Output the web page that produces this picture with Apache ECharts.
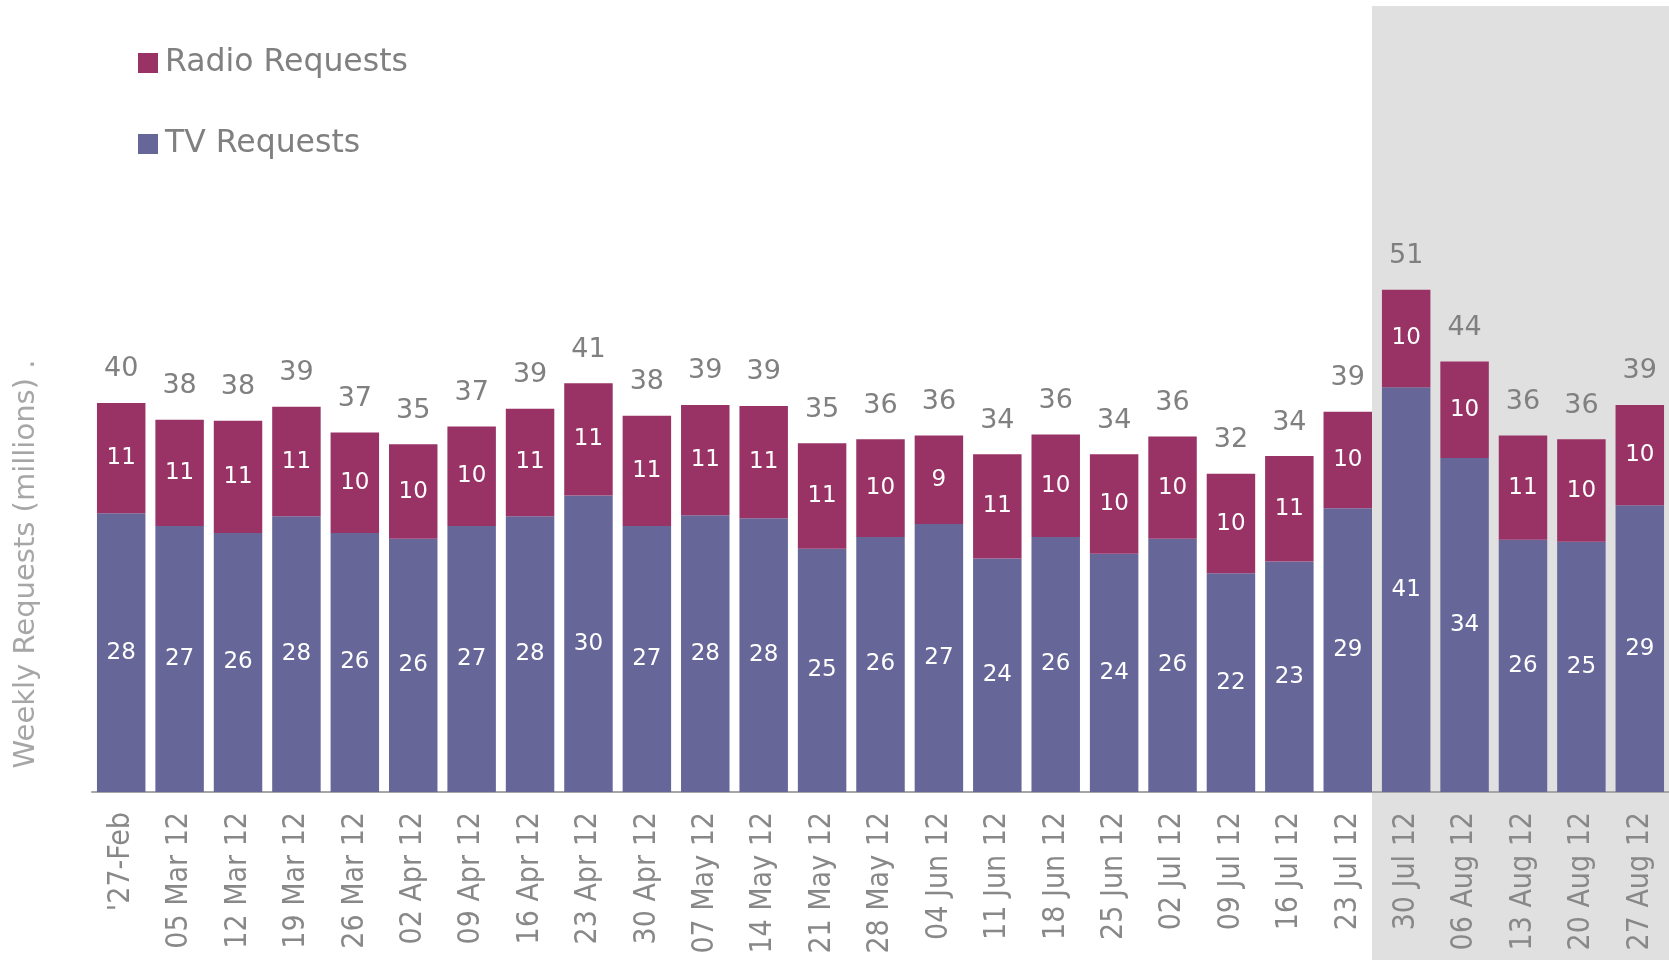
<!DOCTYPE html>
<html>
<head>
<meta charset="utf-8">
<script src="https://cdn.jsdelivr.net/npm/echarts@6/dist/echarts.min.js"></script>
<style>
  html, body { margin: 0; padding: 0; background: #fff; }
  #chart { width: 1669px; height: 960px; }
</style>
</head>
<body>
<div id="chart"></div>
<script>
// weeks on the x axis
const weeks = ["'27-Feb", '05 Mar 12', '12 Mar 12', '19 Mar 12', '26 Mar 12', '02 Apr 12', '09 Apr 12',
  '16 Apr 12', '23 Apr 12', '30 Apr 12', '07 May 12', '14 May 12', '21 May 12', '28 May 12',
  '04 Jun 12', '11 Jun 12', '18 Jun 12', '25 Jun 12', '02 Jul 12', '09 Jul 12', '16 Jul 12',
  '23 Jul 12', '30 Jul 12', '06 Aug 12', '13 Aug 12', '20 Aug 12', '27 Aug 12']

// weekly requests, millions
const tvRequests = [28.3, 27.0, 26.3, 28.0, 26.3, 25.7, 27.0, 28.0, 30.1, 27.0, 28.1, 27.8, 24.7, 25.9,
  27.2, 23.7, 25.9, 24.2, 25.7, 22.2, 23.4, 28.8, 41.1, 33.9, 25.6, 25.4, 29.1]
const radioRequests = [11.2, 10.8, 11.4, 11.1, 10.2, 9.6, 10.1, 10.9, 11.4, 11.2, 11.2, 11.4, 10.7, 9.9,
  9.0, 10.6, 10.4, 10.1, 10.4, 10.1, 10.7, 9.8, 9.9, 9.8, 10.6, 10.4, 10.2]
// total labels as printed above the bars
const totals = [40, 38, 38, 39, 37, 35, 37, 39, 41, 38, 39, 39, 35, 36, 36, 34, 36, 34, 36, 32, 34,
  39, 51, 44, 36, 36, 39]

// first week of the highlighted period
const shadeFrom = '30 Jul 12'

const chart = echarts.init(document.getElementById('chart'))

const option = {
  animation: false,
  legend: {
    orient: 'vertical',
    left: 133,
    top: 42,
    itemWidth: 20,
    itemHeight: 20,
    itemGap: 49,
    icon: 'rect',
    data: ['Radio Requests', 'TV Requests'],
    textStyle: { color: '#808080', fontSize: 31.5, fontFamily: 'DejaVu Sans', padding: [0, 0, 0, 2] }
  },
  grid: { left: 92, top: 4, bottom: 168, width: 1585 },
  xAxis: {
    type: 'category',
    data: weeks,
    axisTick: { show: false },
    axisLine: { lineStyle: { color: '#a6a6a6', width: 2 } },
    axisLabel: {
      rotate: 90,
      margin: 20,
      color: '#888',
      fontSize: 30,
      fontFamily: "'DejaVu Sans Condensed', 'Liberation Sans Narrow', sans-serif"
    }
  },
  yAxis: {
    type: 'value',
    min: 0,
    max: 80,
    axisLine: { show: false },
    axisTick: { show: false },
    axisLabel: { show: false },
    splitLine: { show: false }
  },
  series: [
    {
      name: 'TV Requests',
      type: 'bar',
      stack: 'req',
      barCategoryGap: '17%',
      data: tvRequests,
      itemStyle: { color: '#666699' },
      label: {
        show: true,
        position: 'inside',
        color: '#fff',
        fontSize: 23,
        fontFamily: 'DejaVu Sans',
        formatter: p => Math.round(p.value)
      }
    },
    {
      name: 'Radio Requests',
      type: 'bar',
      stack: 'req',
      data: radioRequests,
      itemStyle: { color: '#993366' },
      label: {
        show: true,
        position: 'inside',
        color: '#fff',
        fontSize: 23,
        fontFamily: 'DejaVu Sans',
        formatter: p => Math.round(p.value)
      }
    },
    {
      // zero-height cap that carries the total label
      name: 'Total',
      type: 'bar',
      stack: 'req',
      data: totals.map(() => 0),
      itemStyle: { color: 'transparent' },
      label: {
        show: true,
        position: 'top',
        distance: 20,
        color: '#808080',
        fontSize: 27,
        fontFamily: 'DejaVu Sans',
        formatter: p => totals[p.dataIndex]
      }
    }
  ]
}

chart.setOption(option)

// shaded highlight period + rotated axis title
const idx = weeks.indexOf(shadeFrom)
const prevX = chart.convertToPixel({ xAxisIndex: 0 }, weeks[idx - 1])
const curX = chart.convertToPixel({ xAxisIndex: 0 }, weeks[idx])
const barW = (curX - prevX) * 0.83
const shadeX = prevX + barW / 2

chart.setOption({
  graphic: [
    {
      type: 'rect',
      z: -10,
      shape: { x: shadeX, y: 6, width: 1669 - shadeX, height: 960 },
      style: { fill: '#e0e0e0' },
      silent: true
    },
    {
      type: 'text',
      x: 26,
      y: 564,
      rotation: Math.PI / 2,
      style: {
        text: 'Weekly Requests (millions) .',
        fill: '#a6a6a6',
        fontSize: 29,
        fontFamily: 'DejaVu Sans',
        align: 'center',
        verticalAlign: 'middle'
      }
    }
  ]
})
</script>
</body>
</html>
